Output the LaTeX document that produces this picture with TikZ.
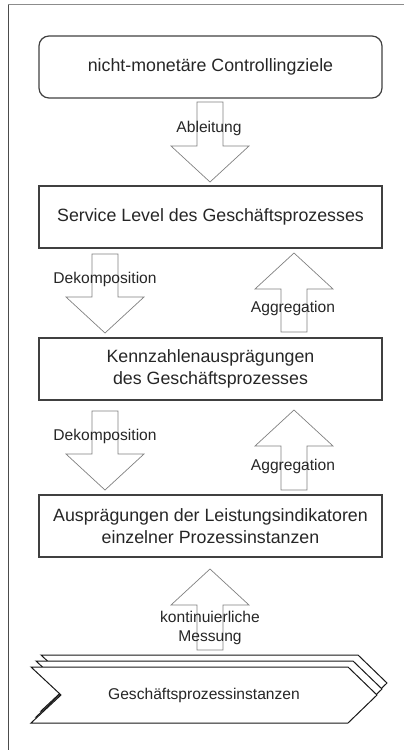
\documentclass[tikz,border=0pt]{standalone}
\usepackage{fontspec}
\setmainfont{Liberation Sans}
\begin{document}
\begin{tikzpicture}[x=1pt,y=-1pt,
  boxtext/.style={font=\fontsize{17.8}{21.5}\selectfont, text=black!85, align=center},
  lbltext/.style={font=\fontsize{15.6}{19}\selectfont, text=black!85, align=center},
  levelbox/.style={draw=black!75, line width=1.2pt, minimum width=343pt, minimum height=62pt, inner sep=0pt, boxtext},
  goalbox/.style={levelbox, rounded corners=10pt},
  blockarrow/.style={draw=black!50, line width=0.7pt, fill=none, line join=miter},
  chevron/.style={draw=black!90, line width=1pt, fill=white},
  pics/downarrow/.style={code={
    \draw[blockarrow] (-13,0) -- (13,0) -- (13,#1) -- (39,#1) -- (0,{#1+36}) -- (-39,#1) -- (-13,#1) -- cycle;
  }},
  pics/uparrow/.style={code={
    \draw[blockarrow] (-13,0) -- (13,0) -- (13,-#1) -- (39,-#1) -- (0,{-#1-36}) -- (-39,-#1) -- (-13,-#1) -- cycle;
  }}
]
\useasboundingbox (0,0) rectangle (404,750);

% page frame
\draw[black!45, line width=1.4pt] (8,4.5) -- (404,4.5);
\draw[black!70, line width=1pt] (8,4.5) -- (8,750);

% levels
\node[goalbox]  (ziele)   at (210.5,67)  {nicht-monetäre Controllingziele};
\node[levelbox] (service) at (210.5,217) {Service Level des Geschäftsprozesses};
\node[levelbox] (kennz)   at (210.5,369) {Kennzahlenausprägungen\\des Geschäftsprozesses};
\node[levelbox] (indik)   at (210.5,526) {Ausprägungen der Leistungsindikatoren\\einzelner Prozessinstanzen};

% process instances (stacked chevrons)
\foreach \dx/\dy in {10/-12, 5/-6, 0/0}{
  \draw[chevron, shift={(\dx,\dy)}] (31,667) -- (348,667) -- (377,695) -- (348,723) -- (31,723) -- (61,695) -- cycle;
}
\node[lbltext] (inst) at (204,695) {Geschäftsprozessinstanzen};

% block arrows between the levels
\coordinate (ableit)  at (210,102);
\coordinate (dekomp1) at (105,254);
\coordinate (aggr1)   at (294,332);
\coordinate (dekomp2) at (105,411);
\coordinate (aggr2)   at (294,490);
\coordinate (mess)    at (210,650);

\pic at (ableit)  {downarrow=44};
\pic at (dekomp1) {downarrow=43};
\pic at (aggr1)   {uparrow=43};
\pic at (dekomp2) {downarrow=43};
\pic at (aggr2)   {uparrow=44};
\pic at (mess)    {uparrow=45};

% arrow labels
\node[lbltext] (lab1) at (209,128) {Ableitung};
\node[lbltext] (lab2) at (105,279) {Dekomposition};
\node[lbltext] (lab3) at (293,308) {Aggregation};
\node[lbltext] (lab4) at (105,436) {Dekomposition};
\node[lbltext] (lab5) at (293,466) {Aggregation};
\node[lbltext] (lab6) at (210,627.5) {kontinuierliche\\Messung};
\end{tikzpicture}
\end{document}
